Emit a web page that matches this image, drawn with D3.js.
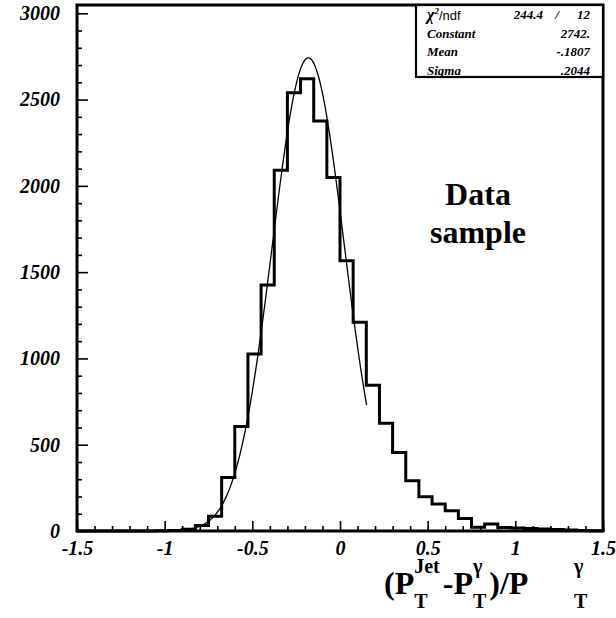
<!DOCTYPE html>
<html>
<head>
<meta charset="utf-8">
<script src="https://cdn.jsdelivr.net/npm/d3@7"></script>
<style>
  html, body { margin: 0; padding: 0; background: #fff; }
  svg { display: block; }
</style>
</head>
<body>
<svg id="chart" width="616" height="618"></svg>
<script>
// Histogram of (pT_jet - pT_gamma)/pT_gamma: 40 bins from -1.5 to 1.5
const binStart = -1.5;
const binWidth = 0.075;
const counts = [
  0, 0, 0, 0, 0, 0, 1, 3, 10, 32,
  85, 310, 605, 1025, 1426, 2091, 2540, 2620, 2376, 2048,
  1566, 1210, 844, 624, 455, 291, 198, 156, 117, 73,
  22, 40, 20, 17, 14, 12, 9, 6, 3, 2
];

// Gaussian fit result
const fitConstant = 2742;
const fitMean = -0.1807;
const fitSigma = 0.2044;
const fitRange = [-0.9, 0.152];

// Fit statistics box rows
const statLabels = ["Constant", "Mean", "Sigma"];
const statValues = ["2742.", "-.1807", ".2044"];
const chi2Value = "244.4";
const ndfValue = "12";

// Axis ticks
const xMajorTicks = [-1.5, -1, -0.5, 0, 0.5, 1, 1.5];
const xTickLabels = ["-1.5", "-1", "-0.5", "0", "0.5", "1", "1.5"];
const yMajorTicks = [0, 500, 1000, 1500, 2000, 2500, 3000];

const svg = d3.select("#chart");
const frameL = 77, frameR = 603, frameT = 5, frameB = 531;

const x = d3.scaleLinear().domain([-1.5, 1.5]).range([frameL, frameR]);
const y = d3.scaleLinear().domain([0, 3048]).range([frameB, frameT]);

const serif = "'Liberation Serif', 'Times New Roman', serif";
const sans = "'Liberation Sans', Arial, sans-serif";

// Minor ticks
const xMinor = d3.range(-15, 16).map(i => i / 10).filter(v => Math.abs(v * 2 - Math.round(v * 2)) > 1e-6);
const yMinor = d3.range(0, 3001, 100).filter(v => v % 500 !== 0);

const gx = svg.append("g").attr("transform", `translate(0,${frameB})`);
gx.call(d3.axisBottom(x).tickValues(xMinor).tickSize(-5).tickFormat(""));
const gxMajor = svg.append("g").attr("transform", `translate(0,${frameB})`);
gxMajor.call(d3.axisBottom(x).tickValues(xMajorTicks).tickSize(-10).tickPadding(10)
  .tickFormat((d, i) => xTickLabels[i]));

const gy = svg.append("g").attr("transform", `translate(${frameL},0)`);
gy.call(d3.axisLeft(y).tickValues(yMinor).tickSize(-5).tickFormat(""));
const gyMajor = svg.append("g").attr("transform", `translate(${frameL},0)`);
gyMajor.call(d3.axisLeft(y).tickValues(yMajorTicks).tickSize(-11).tickPadding(17)
  .tickFormat(d3.format("d")));

svg.selectAll(".domain").remove();
svg.selectAll(".tick line").attr("stroke", "#000").attr("stroke-width", 1.6);
svg.selectAll(".tick text")
  .attr("fill", "#000")
  .style("font-family", serif)
  .style("font-weight", "bold")
  .style("font-style", "italic")
  .style("font-size", "20px");

// Histogram outline
const stepPts = [];
counts.forEach((c, i) => {
  const x0 = binStart + i * binWidth;
  stepPts.push([x0, c], [x0 + binWidth, c]);
});
const stepLine = d3.line().x(d => x(d[0])).y(d => y(d[1]));
svg.append("path")
  .attr("d", stepLine([[binStart, 0], ...stepPts, [binStart + counts.length * binWidth, 0]]))
  .attr("fill", "none")
  .attr("stroke", "#000")
  .attr("stroke-width", 3)
  .attr("stroke-linejoin", "miter");

// Gaussian fit curve
const gauss = v => fitConstant * Math.exp(-0.5 * Math.pow((v - fitMean) / fitSigma, 2));
const fitPts = d3.range(0, 201).map(i => {
  const v = fitRange[0] + (fitRange[1] - fitRange[0]) * i / 200;
  return [v, gauss(v)];
});
svg.append("path")
  .attr("d", d3.line().x(d => x(d[0])).y(d => y(d[1]))(fitPts))
  .attr("fill", "none")
  .attr("stroke", "#000")
  .attr("stroke-width", 1.3);

// Frame
svg.append("rect")
  .attr("x", frameL).attr("y", frameT)
  .attr("width", frameR - frameL).attr("height", frameB - frameT)
  .attr("fill", "none").attr("stroke", "#000").attr("stroke-width", 3);

// Fit statistics box
const box = svg.append("g");
box.append("rect")
  .attr("x", 416).attr("y", frameT)
  .attr("width", frameR - 416).attr("height", 77 - frameT)
  .attr("fill", "#fff").attr("stroke", "#000").attr("stroke-width", 2.2);

const statFont = g => g.style("font-family", serif).style("font-weight", "bold")
  .style("font-style", "italic").style("font-size", "13px").attr("fill", "#000");

const chiRow = box.append("text").attr("x", 427).attr("y", 20).call(statFont);
chiRow.append("tspan").style("font-size", "16px").text("χ");
chiRow.append("tspan").attr("dy", -6).style("font-size", "9px").text("2");
chiRow.append("tspan").attr("dy", 6).style("font-family", sans).style("font-weight", "normal")
  .style("font-style", "normal").style("font-size", "13px").text("/ndf");
box.append("text").attr("x", 543).attr("y", 19).attr("text-anchor", "end").call(statFont).text(chi2Value);
box.append("text").attr("x", 557).attr("y", 19).attr("text-anchor", "middle").call(statFont).text("/");
box.append("text").attr("x", 590).attr("y", 19).attr("text-anchor", "end").call(statFont).text(ndfValue);

statLabels.forEach((lab, i) => {
  const yy = 38 + i * 18.3;
  box.append("text").attr("x", 427).attr("y", yy).call(statFont).text(lab);
  box.append("text").attr("x", 590).attr("y", yy).attr("text-anchor", "end").call(statFont).text(statValues[i]);
});

// Annotation
const note = svg.append("text")
  .attr("text-anchor", "middle")
  .style("font-family", serif).style("font-weight", "bold").style("font-size", "32px")
  .attr("fill", "#000");
note.append("tspan").attr("x", 478).attr("y", 205).text("Data");
note.append("tspan").attr("x", 478).attr("y", 243).text("sample");

// X axis title: (P_T^Jet - P_T^γ)/P_T^γ
const title = svg.append("g")
  .style("font-family", serif).style("font-weight", "bold").attr("fill", "#000");
const baseY = 594;
let cx = 384;
function mainText(str) {
  const t = title.append("text").attr("x", cx).attr("y", baseY).style("font-size", "32px").text(str);
  cx += t.node().getComputedTextLength();
}
function scripts(sup, sub) {
  const a = title.append("text").attr("x", cx).attr("y", baseY - 21).style("font-size", "20px").text(sup);
  const b = title.append("text").attr("x", cx).attr("y", baseY + 14).style("font-size", "20px").text(sub);
  cx += Math.max(a.node().getComputedTextLength(), b.node().getComputedTextLength()) + 3;
}
mainText("(P");
scripts("Jet", "T");
mainText("-P");
scripts("γ", "T");
mainText(")/P");
cx = Math.max(cx + 20, 574);
scripts("γ", "T");
</script>
</body>
</html>
